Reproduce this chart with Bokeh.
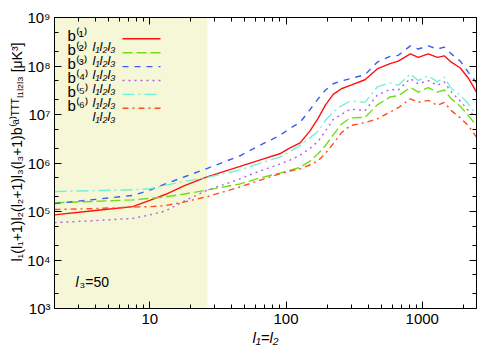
import math
from bokeh.plotting import figure
from bokeh.models import Range1d, LogAxis, FixedTicker, BoxAnnotation, Label, Title
from bokeh.embed import file_html
from bokeh.resources import INLINE

# ---------------- data ----------------
ell = [2, 4, 7.5, 10, 13, 18, 26, 46, 64, 90, 107, 127, 150, 172, 195, 222, 255,
       296, 380, 467, 580, 667, 817, 935, 1107, 1290, 1450, 1634, 1900, 2180, 2500]

b1 = [8.5e4, 1.05e5, 1.26e5, 1.70e5, 2.24e5, 3.4e5, 5.1e5, 8.5e5, 1.15e6, 1.55e6,
      2.04e6, 2.6e6, 4.6e6, 8.3e6, 1.58e7, 2.6e7, 3.4e7,
      4.0e7, 5.2e7, 8.7e7, 1.12e8, 1.26e8, 1.78e8, 1.51e8,
      1.78e8, 1.51e8, 1.62e8, 1.20e8, 9.1e7, 5.6e7, 2.9e7]
b2 = [1.51e5, 1.62e5, 1.74e5, 1.86e5, 2.0e5, 2.3e5, 2.75e5, 3.7e5, 4.9e5, 6.2e5,
      7.1e5, 8.1e5, 1.1e6, 1.55e6, 2.3e6, 3.8e6, 6.3e6,
      8.5e6, 8.7e6, 1.58e7, 2.3e7, 2.45e7, 3.6e7, 2.9e7,
      3.6e7, 2.9e7, 3.2e7, 2.1e7, 1.48e7, 9.5e6, 5.9e6]
b3 = [1.45e5, 1.78e5, 2.14e5, 2.75e5, 3.7e5, 5.2e5, 7.6e5, 1.41e6, 2.3e6, 3.7e6,
      5.2e6, 6.9e6, 1.26e7, 2.1e7, 3.2e7, 4.3e7, 4.9e7,
      5.5e7, 6.6e7, 1.2e8, 1.58e8, 1.66e8, 2.6e8, 2.24e8,
      2.6e8, 2.24e8, 2.45e8, 1.78e8, 1.26e8, 7.4e7, 4.5e7]
b4 = [5.9e4, 6.5e4, 7.2e4, 8.5e4, 1.02e5, 1.66e5, 2.7e5, 4.7e5, 6.8e5, 9.5e5,
      1.15e6, 1.45e6, 2.0e6, 2.8e6, 4.6e6, 7.9e6, 1.0e7,
      1.29e7, 1.2e7, 2.5e7, 3.3e7, 3.2e7, 5.5e7, 4.3e7,
      5.0e7, 4.0e7, 4.7e7, 2.9e7, 1.9e7, 1.2e7, 8.7e6]
b5 = [2.57e5, 2.7e5, 2.8e5, 2.95e5, 3.45e5, 4.2e5, 5.0e5, 7.2e5, 9.8e5, 1.32e6,
      1.74e6, 2.3e6, 3.3e6, 4.5e6, 7.6e6, 1.12e7, 1.51e7,
      1.9e7, 1.78e7, 3.7e7, 4.5e7, 4.0e7, 6.9e7, 5.0e7,
      6.3e7, 4.7e7, 5.9e7, 3.4e7, 2.5e7, 1.66e7, 9.5e6]
b6 = [1.1e5, 1.15e5, 1.23e5, 1.26e5, 1.32e5, 1.58e5, 2.0e5, 3.2e5, 4.4e5, 6.0e5,
      6.8e5, 7.6e5, 9.1e5, 1.12e6, 1.58e6, 2.5e6, 4.2e6,
      5.9e6, 6.8e6, 8.1e6, 1.12e7, 1.38e7, 2.1e7, 1.78e7,
      1.95e7, 1.55e7, 1.78e7, 1.2e7, 8.5e6, 5.9e6, 3.4e6]

shade_right = 26.5

x_major = [10, 100, 1000]
x_major_labels = ["10", "100", "1000"]
y_major = [1e3, 1e4, 1e5, 1e6, 1e7, 1e8, 1e9]
y_major_labels = ["10³", "10⁴", "10⁵", "10⁶", "10⁷", "10⁸", "10⁹"]

legend_names = ["b⁽¹⁾", "b⁽²⁾", "b⁽³⁾", "b⁽⁴⁾", "b⁽⁵⁾", "b⁽⁶⁾"]
legend_sub = "l₁l₂l₃"

# ---------------- figure ----------------
XLO, XHI = 2, 2500
YLO, YHI = 1e3, 1e9
FW, FH = 422, 291  # frame size in px
FONT = "Liberation Sans"

p = figure(width=500, height=350, x_axis_type="log", y_axis_type="log",
           x_range=Range1d(XLO, XHI), y_range=Range1d(YLO, YHI),
           output_backend="svg", toolbar_location=None,
           min_border_left=54, min_border_right=24, min_border_top=17,
           min_border_bottom=42)
p.grid.visible = False
p.outline_line_color = "black"
p.outline_line_width = 1
p.background_fill_color = "white"
p.border_fill_color = "white"

x_minor = [k * 10 ** d for d in range(0, 4) for k in range(2, 10) if XLO <= k * 10 ** d <= XHI]
y_minor = [k * 10 ** d for d in range(3, 9) for k in (2, 5)]


def style_axis(ax, ticker, show_labels):
    ax.ticker = ticker
    ax.axis_line_color = "black"
    ax.major_tick_in = 7
    ax.major_tick_out = 0
    ax.minor_tick_in = 4
    ax.minor_tick_out = 0
    ax.major_tick_line_color = "black"
    ax.minor_tick_line_color = "black"
    ax.major_label_text_font = FONT
    if show_labels:
        ax.major_label_text_font_size = "15px"
        ax.major_label_text_color = "black"
    else:
        ax.major_label_text_font_size = "1px"
        ax.major_label_text_color = None
        ax.major_label_standoff = 0


xt = FixedTicker(ticks=x_major, minor_ticks=x_minor)
yt = FixedTicker(ticks=y_major, minor_ticks=y_minor)

style_axis(p.xaxis[0], xt, True)
p.xaxis[0].major_label_standoff = 5
p.xaxis[0].major_label_overrides = {float(v): s for v, s in zip(x_major, x_major_labels)}
style_axis(p.yaxis[0], yt, True)
p.yaxis[0].major_label_standoff = 4
p.yaxis[0].major_label_overrides = {float(v): s for v, s in zip(y_major, y_major_labels)}

top = LogAxis()
style_axis(top, FixedTicker(ticks=x_major, minor_ticks=x_minor), False)
p.add_layout(top, "above")
right = LogAxis()
style_axis(right, FixedTicker(ticks=y_major, minor_ticks=y_minor), False)
p.add_layout(right, "right")

# y-axis title (rotated, in the left panel)
ytitle = Title(text="l₁(l₁+1)l₂(l₂+1)l₃(l₃+1)b⁽ᵃ⁾ᵀᵀᵀₗ₁ₗ₂ₗ₃ [μK³]",
               align="left", text_font=FONT, text_font_size="14px",
               text_font_style="normal", text_color="black", standoff=0, offset=47)
p.add_layout(ytitle, "left")

# x-axis title (below the tick labels)
xtitle = Title(text="l₁=l₂", align="center", text_font=FONT, text_font_size="15px",
               text_font_style="italic", text_color="black", standoff=0, offset=0)
p.add_layout(xtitle, "below")

# shaded region
p.add_layout(BoxAnnotation(right=shade_right, fill_color="#f5f7d6", fill_alpha=1.0,
                           line_color=None, level="underlay"))

# ---------------- curves ----------------
styles = [
    (b1, "#ff1010", None),
    (b2, "#6ee010", "10 4"),
    (b3, "#3a5cf0", "6 6"),
    (b4, "#b45cf0", "2 4"),
    (b5, "#70f2d6", "12 4 2 4"),
    (b6, "#ff4a22", "6 4 2 4"),
]
for ys, col, dash in styles:
    kw = dict(line_color=col, line_width=1.4)
    if dash:
        kw["line_dash"] = dash
    p.line(ell, ys, **kw)

# ---------------- legend (drawn by hand, text left of sample) ----------------
def xdata(sx):
    a, b = math.log10(XLO), math.log10(XHI)
    return 10 ** (a + sx / FW * (b - a))


def ydata(sy):
    a, b = math.log10(YLO), math.log10(YHI)
    return 10 ** (a + sy / FH * (b - a))


row0, drow = 308 - 38.3, 13.9  # frame-screen y of the first sample line
for i, (ys, col, dash) in enumerate(styles):
    sy = row0 - i * drow
    kw = dict(line_color=col, line_width=1.4)
    if dash:
        kw["line_dash"] = dash
    p.line([xdata(68), xdata(106)], [ydata(sy), ydata(sy)], **kw)
    p.add_layout(Label(x=13, y=sy + 3, x_units="screen", y_units="screen",
                       text=legend_names[i], text_font=FONT,
                       text_font_size="15px", text_align="left",
                       text_baseline="middle", text_color="black"))
    p.add_layout(Label(x=61, y=sy - 8, x_units="screen", y_units="screen",
                       text=legend_sub, text_font=FONT,
                       text_font_style="italic",
                       text_font_size="13px", text_align="right",
                       text_baseline="middle", text_color="black"))

# ---------------- texts ----------------
p.add_layout(Label(x=21, y=27, x_units="screen", y_units="screen", text="l",
                   text_font=FONT, text_font_style="italic",
                   text_font_size="14px", text_baseline="middle", text_color="black"))
p.add_layout(Label(x=25, y=27, x_units="screen", y_units="screen", text="₃=50",
                   text_font=FONT,
                   text_font_size="14px", text_baseline="middle", text_color="black"))

open("out.html", "w").write(file_html(p, INLINE))
